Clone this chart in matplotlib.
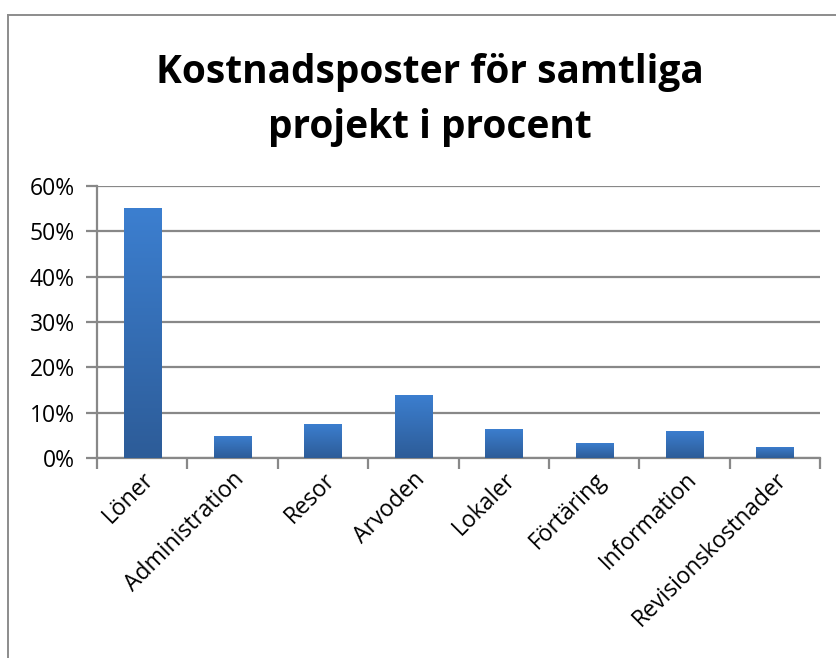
import matplotlib
matplotlib.use("Agg")
import matplotlib.pyplot as plt
import numpy as np
from matplotlib.lines import Line2D
from matplotlib.colors import LinearSegmentedColormap

categories = ["Löner", "Administration", "Resor", "Arvoden", "Lokaler",
              "Förtäring", "Information", "Revisionskostnader"]
values = [55.1, 4.9, 7.6, 13.9, 6.5, 3.4, 6.0, 2.5]
yticks = [0, 10, 20, 30, 40, 50, 60]
ytick_labels = ["0%", "10%", "20%", "30%", "40%", "50%", "60%"]
title = "Kostnadsposter för samtliga\nprojekt i procent"

plt.rcParams['font.family'] = ['Open Sans', 'DejaVu Sans']

W, H = 837, 658
fig = plt.figure(figsize=(W / 100, H / 100), dpi=100)
ax = fig.add_axes([97 / W, 1 - 458 / H, (820 - 97) / W, (458 - 186) / H])

grid_col = "#888888"
x = np.arange(len(categories))
bars = ax.bar(x, values, width=0.41, color="#3674c2", zorder=3)

# vertical gradient inside bars
grad = np.linspace(0, 1, 256).reshape(-1, 1)
cmap = LinearSegmentedColormap.from_list("g", ["#2d5c98", "#3c7fd0"])
for b in bars:
    x0, y0 = b.get_x(), b.get_y()
    w, h = b.get_width(), b.get_height()
    im = ax.imshow(grad, extent=[x0, x0 + w, y0, y0 + h], origin="lower",
                   cmap=cmap, aspect="auto", zorder=4)
    im.set_clip_path(b)

ax.set_xlim(-0.5, len(categories) - 0.5)
ax.set_ylim(0, 60)
ax.set_yticks(yticks)
ax.set_yticklabels(ytick_labels, fontsize=16.5)
ax.yaxis.grid(True, color=grid_col, linewidth=1.6, zorder=0)
ax.set_axisbelow(True)

ax.set_xticks(x)
ax.set_xticklabels(categories, rotation=45, ha="right", rotation_mode="anchor",
                   fontsize=16.5)
ax.tick_params(axis="x", length=0, pad=7)
ax.set_xticks(np.arange(len(categories) + 1) - 0.5, minor=True)
ax.tick_params(axis="x", which="minor", length=8, color=grid_col, width=1.6,
               direction="out")
ax.tick_params(axis="y", length=8, color=grid_col, width=1.6, pad=8)

for s in ["top", "right"]:
    ax.spines[s].set_visible(False)
for s in ["left", "bottom"]:
    ax.spines[s].set_color(grid_col)
    ax.spines[s].set_linewidth(1.6)

fig.text(430 / W, 1 - 100 / H, title, ha="center", va="center",
         fontsize=28, fontweight="bold", linespacing=1.55)

# chart area frame (left and top edges visible)
fig.add_artist(Line2D([8.5 / W, 8.5 / W], [0, 1 - 15 / H], transform=fig.transFigure,
                      color="#8c8c8c", linewidth=1.4))
fig.add_artist(Line2D([8.5 / W, 1], [1 - 15 / H, 1 - 15 / H], transform=fig.transFigure,
                      color="#8c8c8c", linewidth=1.4))

fig.savefig("out.png", dpi=100)
